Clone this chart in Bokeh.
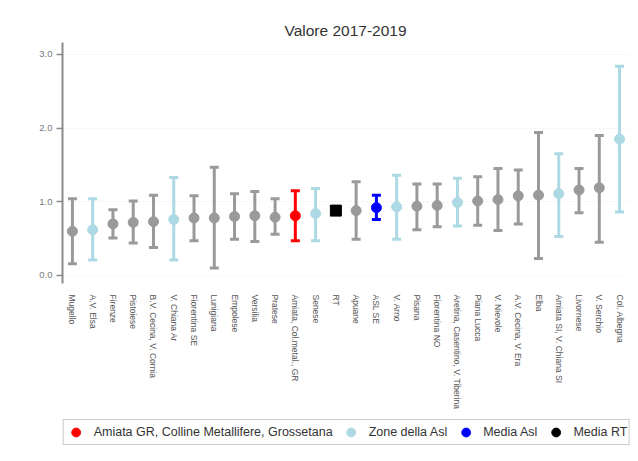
from bokeh.plotting import figure
from bokeh.layouts import column
from bokeh.models import Range1d, FixedTicker, Legend, LegendItem, ColumnDataSource, Label
from bokeh.embed import file_html
from bokeh.resources import INLINE

zones = ["Mugello", "A.V. Elsa", "Firenze", "Pistoiese", "B.V. Cecina, V. Cornia",
         "V. Chiana Ar", "Fiorentina SE", "Lunigiana", "Empolese", "Versilia",
         "Pratese", "Amiata, Col.metal., GR", "Senese", "RT", "Apuane",
         "ASL SE", "V. Arno", "Pisana", "Fiorentina NO", "Aretina, Casentino, V. Tiberina",
         "Piana Lucca", "V. Nievole", "A.V. Cecina, V. Era", "Elba", "Amiata SI, V. Chiana SI",
         "Livornese", "V. Serchio", "Col. Albegna"]
estimate = [0.60, 0.62, 0.70, 0.72, 0.73, 0.76, 0.78, 0.78, 0.80, 0.81,
            0.79, 0.81, 0.84, 0.88, 0.88, 0.92, 0.93, 0.94, 0.95, 0.99,
            1.01, 1.03, 1.08, 1.09, 1.11, 1.16, 1.19, 1.85]
lower = [0.16, 0.21, 0.51, 0.44, 0.38, 0.21, 0.47, 0.10, 0.49, 0.46,
         0.56, 0.47, 0.47, 0.88, 0.49, 0.76, 0.49, 0.62, 0.66, 0.67,
         0.68, 0.61, 0.70, 0.23, 0.53, 0.85, 0.45, 0.86]
upper = [1.04, 1.04, 0.89, 1.01, 1.09, 1.33, 1.08, 1.47, 1.11, 1.14,
         1.04, 1.15, 1.18, 0.88, 1.27, 1.09, 1.36, 1.24, 1.24, 1.32,
         1.34, 1.45, 1.43, 1.94, 1.65, 1.45, 1.90, 2.84]
group = ["altre", "zona", "altre", "altre", "altre", "zona", "altre", "altre", "altre", "altre",
         "altre", "amiata", "zona", "rt", "altre", "asl", "zona", "altre", "altre", "zona",
         "altre", "altre", "altre", "altre", "zona", "altre", "altre", "zona"]
y_ticks = [0, 1, 2, 3]
y_tick_labels = ["0.0", "1.0", "2.0", "3.0"]
legend_groups = ["amiata", "zona", "asl", "rt"]
legend_labels = ["Amiata GR, Colline Metallifere, Grossetana", "Zone della Asl",
                 "Media Asl", "Media RT"]
title_text = "Valore 2017-2019"

palette = {"altre": "#9a9a9a", "zona": "#acd9e3", "amiata": "#ff0000",
           "asl": "#0000ff", "rt": "#000000"}
FONT = "Liberation Sans"
W = 630
LEFT = 62


def blank(height, xr=(-3, -2), yr=(-3, -2)):
    f = figure(width=W, height=height, output_backend="svg", toolbar_location=None,
               x_axis_type=None, y_axis_type=None, min_border=0,
               min_border_left=LEFT, min_border_right=0,
               min_border_top=0, min_border_bottom=0,
               x_range=Range1d(*xr), y_range=Range1d(*yr))
    f.outline_line_color = None
    f.xgrid.grid_line_color = None
    f.ygrid.grid_line_color = None
    return f


# title strip (its frame is aligned with the chart frame; coordinates are page pixels)
tf = blank(42, xr=(LEFT, W), yr=(0, 42))
tf.add_layout(Label(x=345, y=12, text=title_text,
                    text_align="center", text_baseline="middle", text_font=FONT,
                    text_font_size="15.5px", text_color="#333333"))

# main chart
p = figure(width=W, height=370, output_backend="svg", toolbar_location=None,
           x_range=Range1d(-0.49, 27.54), y_range=Range1d(-0.109, 3.161),
           min_border_left=LEFT, min_border_right=0, min_border_top=0,
           min_border_bottom=0)
p.outline_line_color = None
p.background_fill_color = "white"
p.border_fill_color = "white"

idx = list(range(len(zones)))
p.xaxis.ticker = FixedTicker(ticks=idx)
p.xaxis.major_label_overrides = {i: z for i, z in zip(idx, zones)}
p.xaxis.major_label_orientation = "vertical"
p.xaxis.axis_line_color = None
p.xaxis.major_tick_line_color = None
p.xaxis.minor_tick_line_color = None
p.xaxis.major_label_text_font = FONT
p.xaxis.major_label_text_font_size = "8.5px"
p.xaxis.major_label_text_color = "#555555"
p.xaxis.major_label_standoff = 5

p.yaxis.ticker = FixedTicker(ticks=y_ticks)
p.yaxis.major_label_overrides = {t: l for t, l in zip(y_ticks, y_tick_labels)}
p.yaxis.axis_line_color = "#8a8a8a"
p.yaxis.axis_line_width = 2
p.yaxis.major_tick_line_color = "#8a8a8a"
p.yaxis.major_tick_line_width = 1.5
p.yaxis.major_tick_in = 0
p.yaxis.major_tick_out = 6
p.yaxis.minor_tick_line_color = None
p.yaxis.major_label_text_font = FONT
p.yaxis.major_label_text_font_size = "9.5px"
p.yaxis.major_label_text_color = "#777777"
p.yaxis.major_label_standoff = 4

p.xgrid.grid_line_color = None
p.ygrid.grid_line_color = "#f0f0f0"
p.ygrid.grid_line_dash = "2 2"

sources = {}
for g in ["altre", "amiata", "zona", "asl", "rt"]:
    sel = [i for i in idx if group[i] == g]
    src = ColumnDataSource(dict(x=sel,
                                est=[estimate[i] for i in sel],
                                lo=[lower[i] for i in sel],
                                hi=[upper[i] for i in sel]))
    sources[g] = src
    col = palette[g]
    if g != "rt":
        p.segment(x0="x", y0="lo", x1="x", y1="hi", source=src,
                  line_color=col, line_width=3)
        p.scatter(x="x", y="lo", source=src, marker="dash", size=9,
                  line_color=col, line_width=3)
        p.scatter(x="x", y="hi", source=src, marker="dash", size=9,
                  line_color=col, line_width=3)
        p.scatter(x="x", y="est", source=src, marker="circle", size=10,
                  fill_color=col, line_color=col)
    else:
        p.scatter(x="x", y="est", source=src, marker="square", size=11,
                  fill_color=col, line_color=col)

# legend strip (its glyphs sit outside the strip's visible range)
lg = blank(40)
items = []
for g, lab in zip(legend_groups, legend_labels):
    r = lg.scatter(x="x", y="est", source=sources[g], marker="circle", size=10,
                   fill_color=palette[g], line_color=palette[g])
    items.append(LegendItem(label=lab, renderers=[r]))
legend = Legend(items=items, orientation="horizontal", location="center",
                label_text_font=FONT, label_text_font_size="12.5px",
                label_text_color="#333333", border_line_color="#999999",
                border_line_width=1.5, padding=1, spacing=7, margin=0,
                glyph_width=22, glyph_height=22, label_standoff=7,
                label_height=20)
lg.add_layout(legend, "center")

layout = column(tf, p, lg, spacing=0)
open("out.html", "w").write(file_html(layout, INLINE))
